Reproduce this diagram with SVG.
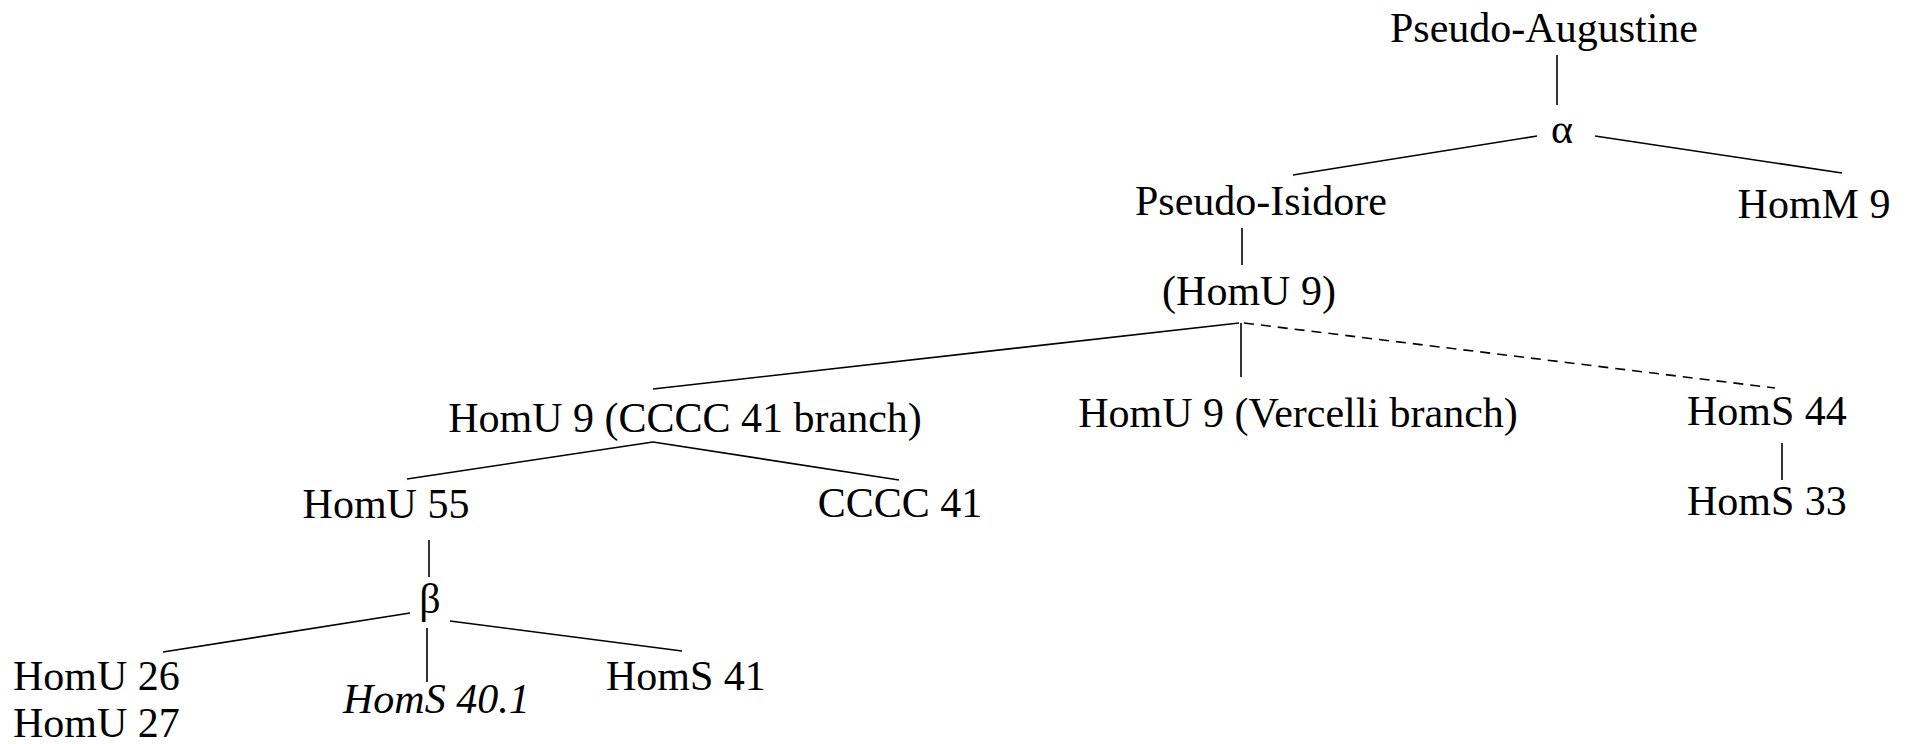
<svg xmlns="http://www.w3.org/2000/svg" width="1909" height="744" viewBox="0 0 1909 744">
<style>
text{font-family:"Liberation Serif","Times New Roman",serif;font-size:42px;fill:#000}
.m{text-anchor:middle}
.i{font-style:italic}
.c line{stroke:#000;stroke-width:1.6;fill:none}
.c .d{stroke-dasharray:10 7}
</style>
<rect width="1909" height="744" fill="#fff"/>
<g id="connectors" class="c">
<line x1="1557" y1="55" x2="1557" y2="105"/>
<line x1="1537" y1="136" x2="1293" y2="175"/>
<line x1="1595" y1="136" x2="1842" y2="173"/>
<line x1="1242" y1="228" x2="1242" y2="265"/>
<line x1="1239" y1="323" x2="653" y2="389"/>
<line x1="1241" y1="323" x2="1241" y2="377"/>
<line class="d" x1="1244" y1="323" x2="1775" y2="388"/>
<line x1="653" y1="442" x2="407" y2="479"/>
<line x1="653" y1="442" x2="899" y2="480"/>
<line x1="1782" y1="443" x2="1782" y2="480"/>
<line x1="429" y1="540" x2="429" y2="577"/>
<line x1="410" y1="613" x2="163" y2="652"/>
<line x1="450" y1="621" x2="682" y2="651"/>
<line x1="427" y1="628" x2="427" y2="682"/>
</g>
<g id="pseudo-augustine"><text class="m" x="1544" y="42">Pseudo-Augustine</text></g>
<g id="alpha"><text class="m" x="1562" y="143">α</text></g>
<g id="pseudo-isidore"><text class="m" x="1261" y="215">Pseudo-Isidore</text></g>
<g id="homm9"><text class="m" x="1814" y="218">HomM 9</text></g>
<g id="homu9"><text class="m" x="1249" y="305">(HomU 9)</text></g>
<g id="homu9-cccc"><text class="m" x="685" y="432">HomU 9 (CCCC 41 branch)</text></g>
<g id="homu9-vercelli"><text class="m" x="1298" y="427">HomU 9 (Vercelli branch)</text></g>
<g id="homs44"><text x="1687" y="425">HomS 44</text></g>
<g id="homs33"><text x="1687" y="515">HomS 33</text></g>
<g id="homu55"><text class="m" x="386" y="518">HomU 55</text></g>
<g id="cccc41"><text class="m" x="900" y="517">CCCC 41</text></g>
<g id="beta"><text class="m" x="430" y="613">β</text></g>
<g id="homu26-27"><text x="13" y="690">HomU 26</text><text x="13" y="737">HomU 27</text></g>
<g id="homs40-1"><text class="i" x="343" y="713">HomS 40.1</text></g>
<g id="homs41"><text x="606" y="690">HomS 41</text></g>
</svg>
